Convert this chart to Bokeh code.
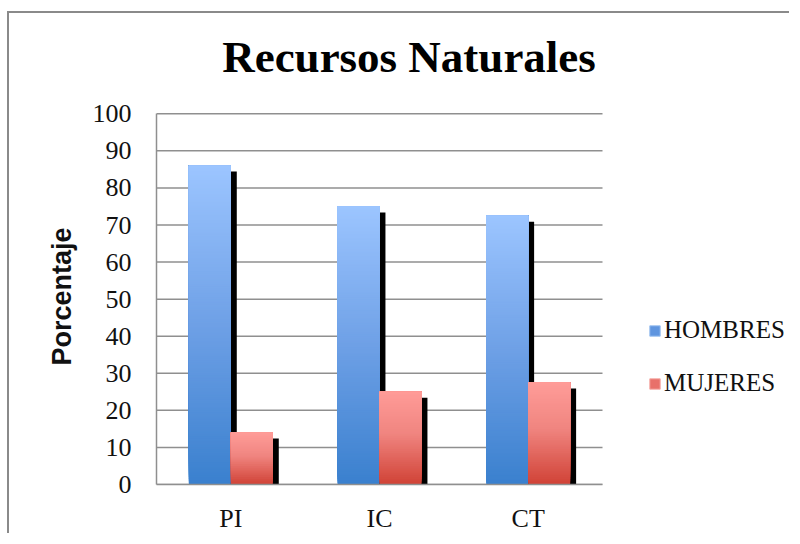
import numpy as np
from bokeh.plotting import figure
from bokeh.models import (ColumnDataSource, Range1d, Legend, LegendItem, Label,
                          FixedTicker, Title)
from bokeh.embed import file_html
from bokeh.resources import INLINE

# ---- data ----
categories = ["PI", "IC", "CT"]
hombres = [86, 75, 72.5]
mujeres = [14, 25, 27.5]
series_names = ["HOMBRES", "MUJERES"]
y_ticks = [0, 10, 20, 30, 40, 50, 60, 70, 80, 90, 100]
title_text = "Recursos Naturales"
y_label = "Porcentaje"

# ---- layout / styling ----
W, H = 782, 522
LEFT, BOTTOM = 147, 50
PLOT_W, PLOT_H = 446.0, 371.5          # pixel size of the gridded plot area
X_END = len(categories) * (W - LEFT) / PLOT_W
Y_END = 100 * (H - BOTTOM) / PLOT_H
BAR_W = 0.2825
SH_DX = 0.04
SH_DY = 1.6
STEP = 0.5
blue_stops = [(0.0, (0x3A, 0x80, 0xCE)), (0.5, (0x6E, 0xA0, 0xE6)), (1.0, (0x9C, 0xC5, 0xFF))]
red_stops = [(0.0, (0xD0, 0x42, 0x36)), (0.55, (0xF0, 0x85, 0x80)), (1.0, (0xFF, 0x9C, 0x98))]
GRID = "#8f8f8f"
SERIF = "Liberation Serif"

centers = [i + 0.5 for i in range(len(categories))]


def grad(stops, t):
    for (t0, c0), (t1, c1) in zip(stops[:-1], stops[1:]):
        if t <= t1:
            f = (t - t0) / (t1 - t0)
            return "#%02x%02x%02x" % tuple(int(round(a + (b - a) * f)) for a, b in zip(c0, c1))
    return "#%02x%02x%02x" % stops[-1][1]


def strip_source(vals, stops, dx0, dx1):
    L, R, B, T, C = [], [], [], [], []
    for xc, v in zip(centers, vals):
        n = max(int(np.ceil(v / STEP)), 1)
        edges = np.linspace(0, v, n + 1)
        for i in range(n):
            L.append(xc + dx0)
            R.append(xc + dx1)
            B.append(edges[i])
            T.append(v)
            C.append(grad(stops, (i + 0.5) / n))
    return ColumnDataSource(dict(left=L, right=R, bottom=B, top=T, color=C))


def shadow_source(vals, dx0, dx1):
    return ColumnDataSource(dict(left=[xc + dx0 + SH_DX for xc in centers],
                                 right=[xc + dx1 + SH_DX for xc in centers],
                                 bottom=[0] * len(vals),
                                 top=[v - SH_DY for v in vals]))


p = figure(x_range=Range1d(0, X_END), y_range=Range1d(0, Y_END),
           width=W, height=H, output_backend="svg", toolbar_location=None,
           min_border_left=LEFT, min_border_right=0, min_border_top=0,
           min_border_bottom=BOTTOM)
p.styles = {"border-left": "2px solid #8a8a8a", "border-top": "2px solid #8a8a8a",
            "margin-top": "11px", "margin-left": "7px"}
p.outline_line_color = None
p.background_fill_color = "white"
p.border_fill_color = "white"
p.xgrid.visible = False
p.ygrid.visible = False

# horizontal gridlines over the category span
p.segment(x0=0, x1=len(categories), y0=y_ticks, y1=y_ticks, line_color=GRID, line_width=1.5)

# shadows
p.quad(left="left", right="right", bottom="bottom", top="top",
       source=shadow_source(hombres, -BAR_W, 0), fill_color="black", line_color=None)
p.quad(left="left", right="right", bottom="bottom", top="top",
       source=shadow_source(mujeres, 0, BAR_W), fill_color="black", line_color=None)

# gradient bars
p.quad(left="left", right="right", bottom="bottom", top="top",
       source=strip_source(hombres, blue_stops, -BAR_W, 0), fill_color="color", line_color=None)
p.quad(left="left", right="right", bottom="bottom", top="top",
       source=strip_source(mujeres, red_stops, 0, BAR_W), fill_color="color", line_color=None)

# legend renderers (nothing drawn in the plot)
lh = p.quad(left=[np.nan], right=[np.nan], bottom=[np.nan], top=[np.nan],
            fill_color="#5f95df", line_color="#9cc0f0")
lm = p.quad(left=[np.nan], right=[np.nan], bottom=[np.nan], top=[np.nan],
            fill_color="#e8706a", line_color="#f5aaa5")
legend = Legend(items=[LegendItem(label=series_names[0], renderers=[lh]),
                       LegendItem(label=series_names[1], renderers=[lm])],
                location=(492, 86.5), padding=0, margin=0, border_line_color=None,
                background_fill_alpha=0, glyph_width=13, glyph_height=13,
                label_standoff=3, label_height=29, spacing=24,
                label_text_font=SERIF, label_text_font_size="25px",
                label_text_color="#111111")
p.add_layout(legend, "center")

# axes
p.yaxis.bounds = (0, 100)
p.yaxis.ticker = FixedTicker(ticks=y_ticks)
p.yaxis.axis_line_color = GRID
p.yaxis.axis_line_width = 1.5
p.yaxis.major_tick_line_color = None
p.yaxis.minor_tick_line_color = None
p.yaxis.major_tick_out = 0
p.yaxis.minor_tick_out = 0
p.yaxis.major_label_text_font = SERIF
p.yaxis.major_label_text_font_size = "26px"
p.yaxis.major_label_text_color = "#111111"
p.yaxis.major_label_standoff = 25

# y-axis title, placed along the 0-100 span
p.add_layout(Title(text=y_label, align="left", offset=119, standoff=26,
                   text_font="Liberation Sans", text_font_style="bold",
                   text_font_size="27px", text_color="#111111"), "left")

p.xaxis.bounds = (0, len(categories))
p.xaxis.ticker = FixedTicker(ticks=centers)
p.xaxis.major_label_overrides = {c: lab for c, lab in zip(centers, categories)}
p.xaxis.axis_line_color = GRID
p.xaxis.axis_line_width = 1.5
p.xaxis.major_tick_line_color = None
p.xaxis.minor_tick_line_color = None
p.xaxis.major_tick_out = 0
p.xaxis.minor_tick_out = 0
p.xaxis.major_label_text_font = SERIF
p.xaxis.major_label_text_font_size = "26px"
p.xaxis.major_label_text_color = "#111111"
p.xaxis.major_label_standoff = 19

# title
p.add_layout(Label(x=252.5, y=427.3, x_units="screen", y_units="screen", text=title_text,
                   text_font=SERIF, text_font_style="bold", text_font_size="45px",
                   text_align="center", text_baseline="alphabetic", text_color="#000000"))

open("out.html", "w").write(file_html(p, INLINE))
